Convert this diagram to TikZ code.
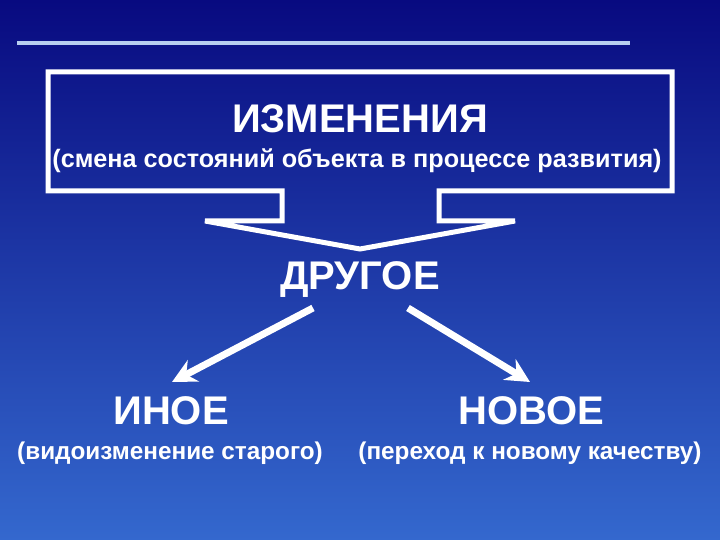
\documentclass[tikz,border=0pt]{standalone}
\usepackage{fontspec}
\setmainfont{Liberation Sans}
\usetikzlibrary{arrows.meta}
\definecolor{bgtop}{RGB}{8,10,128}
\definecolor{bgbot}{RGB}{52,104,206}
\definecolor{rulec}{RGB}{184,206,240}
\tikzset{
  big/.style={text=white,font=\fontsize{40}{44}\selectfont\bfseries,inner sep=0pt},
  small/.style={text=white,font=\fontsize{24.3}{27}\selectfont\bfseries,inner sep=0pt},
  smalltop/.style={text=white,font=\fontsize{25.2}{28}\selectfont\bfseries,inner sep=0pt},
  frame/.style={draw=white,line width=5pt,line join=miter},
  arr/.style={draw=white,line width=7pt,-{Stealth[length=24pt,width=24pt,inset=8pt]}}
}
\begin{document}
\begin{tikzpicture}[x=1pt,y=-1pt]
\shade[top color=bgtop,bottom color=bgbot] (0,0) rectangle (720,540);
\useasboundingbox (0,0) rectangle (720,540);
% top rule
\coordinate (r1) at (17,43);
\coordinate (r2) at (630,43);
\draw[rulec,line width=4pt] (r1) -- (r2);
% callout frame
\draw[frame] (48,72) -- (48,191) -- (282,191) -- (282,221) -- (205,221)
  -- (360,249) -- (515,221) -- (439,221) -- (439,191) -- (672,191)
  -- (672,72) -- cycle;
\node[big] (izm) at (360,119) {ИЗМЕНЕНИЯ};
\node[smalltop] (izms) at (357,161) {(смена состояний объекта в процессе развития)};
\node[big] (drug) at (360,280) {ДРУГОЕ};
\node[big] (inoe) at (171,411) {ИНОЕ};
\node[small] (inoes) at (170,453) {(видоизменение старого)};
\node[big] (novo) at (531,411) {НОВОЕ};
\node[small] (novos) at (530,453) {(переход к новому качеству)};
\coordinate (a1s) at (313,308);
\coordinate (a1e) at (172,382);
\coordinate (a2s) at (408,308);
\coordinate (a2e) at (530,382);
\draw[arr] (a1s) -- (a1e);
\draw[arr] (a2s) -- (a2e);
\end{tikzpicture}
\end{document}
